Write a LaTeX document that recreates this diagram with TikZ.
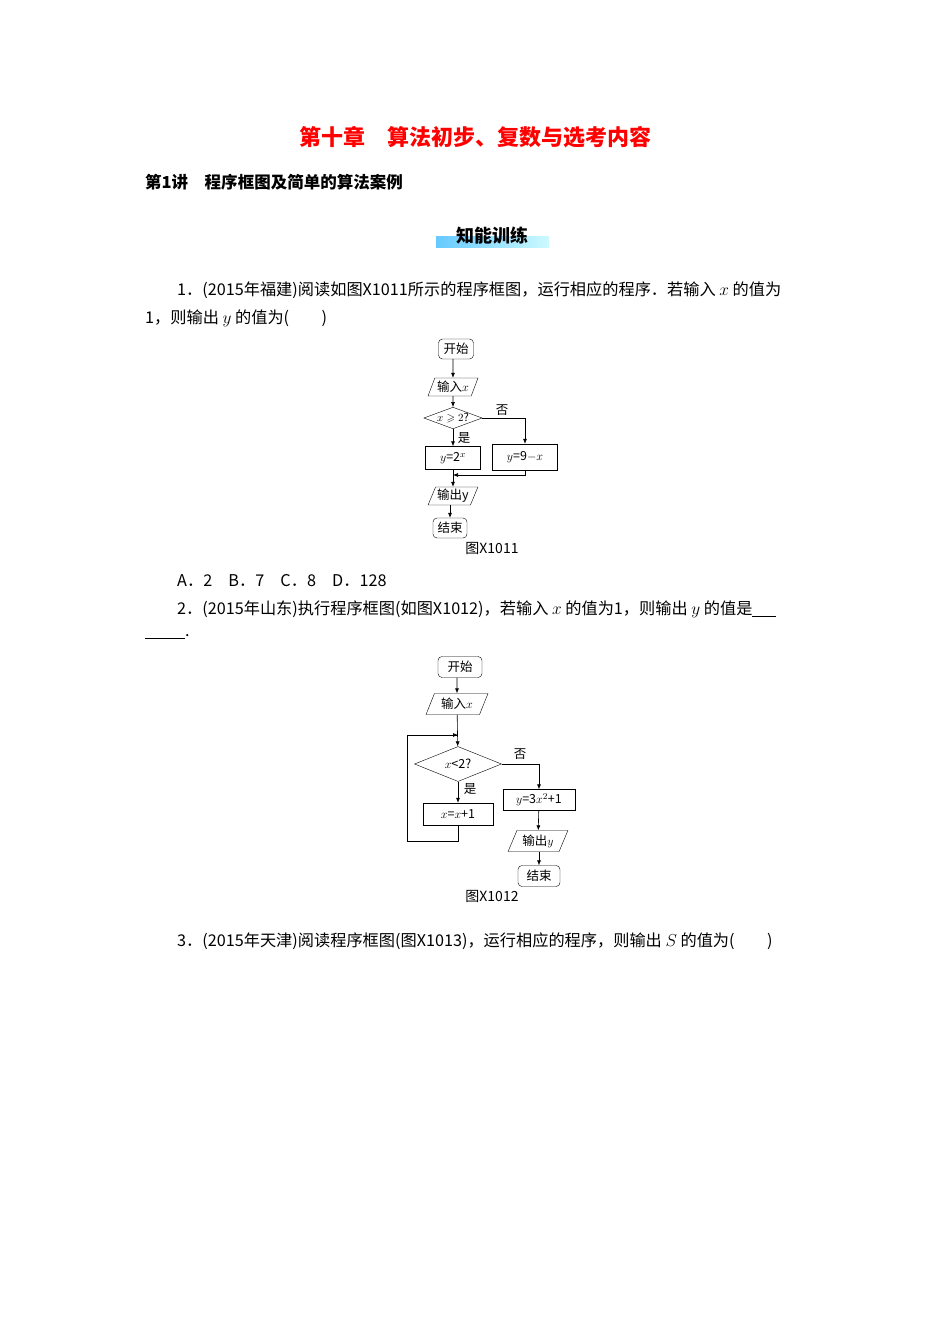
\documentclass[tikz,border=0pt]{standalone}
\usepackage{amssymb}
\usepackage{fontspec}
\setmainfont{Liberation Serif}
\newfontfamily\cjk{Noto Sans CJK SC}
\usetikzlibrary{shapes.geometric,arrows.meta}
\tikzset{
 x=1pt,y=-1pt,
 txt/.style={anchor=west,inner sep=0pt,font=\cjk\fontsize{16.2}{18}\selectfont},
 fc/.style={font=\cjk\fontsize{12.5}{14}\selectfont,inner sep=1pt},
 term/.style={fc,draw,rounded corners=4pt,minimum height=20pt},
 proc/.style={fc,draw,minimum height=22pt},
 io/.style={fc,draw,trapezium,trapezium left angle=65,trapezium right angle=115,minimum height=18pt,trapezium stretches=true},
 dec/.style={fc,draw,diamond,aspect=2.7,inner sep=0pt},
 arr/.style={-{Latex[length=5pt,width=4pt]},line width=0.6pt},
 ln/.style={line width=0.6pt},
 lab/.style={fc,inner sep=0pt}
}
\begin{document}
\begin{tikzpicture}
\useasboundingbox (0,0) rectangle (950,1344);
\node[text=red,font=\cjk\bfseries\fontsize{22}{24}\selectfont] (title) at (475,137) {第十章\quad 算法初步、复数与选考内容};
\node[txt,font=\cjk\bfseries\fontsize{16.5}{18}\selectfont] (sub) at (145,182) {第1讲\quad 程序框图及简单的算法案例};
\shade[left color=blue!35!cyan!60,right color=blue!10!cyan!20] (436,236) rectangle (549,247);
\node[font=\cjk\bfseries\fontsize{18}{20}\selectfont] (zn) at (492,236) {知能训练};
\node[txt] (q1a) at (177,290) {1．(2015年福建)阅读如图X1011所示的程序框图，运行相应的程序．若输入 $x$ 的值为};
\node[txt] (q1b) at (145,318) {1，则输出 $y$ 的值为(\quad\quad )};
% fig 1
\node[term,minimum width=35pt] (s1) at (456,349) {开始};
\node[io,minimum width=50pt] (i1) at (453,387) {输入$x$};
\node[dec,minimum width=55pt,minimum height=20pt,font=\cjk\fontsize{11}{12}\selectfont] (d1) at (453,418) {$x\geqslant2$?};
\node[proc,minimum width=55pt,minimum height=23pt] (p1) at (453,458) {$y$=2$^x$};
\node[proc,minimum width=65pt,minimum height=26pt] (p2) at (525,457) {$y$=9$-x$};
\node[io,minimum width=50pt] (o1) at (453,496) {输出y};
\node[term,minimum width=34pt] (e1) at (450,528) {结束};
\node[lab] (no1) at (502,410) {否};
\node[lab] (yes1) at (464,438) {是};
\node[lab,font=\cjk\fontsize{14}{16}\selectfont] (cap1) at (492,548) {图X1011};
\coordinate (m1) at (453,475);
\draw[arr] (s1) -- (i1 |- s1.south) -- (i1.north);
\draw[arr] (i1) -- (d1);
\draw[arr] (d1) -- (p1);
\draw[arr] (d1.east) -| (p2.north);
\draw[arr] (p2.south) |- (m1);
\draw[arr] (p1) -- (o1);
\draw[arr] (o1.south -| e1) -- (e1);
\node[txt] (opt) at (177,581) {A．2\quad B．7\quad C．8\quad D．128};
\node[txt] (q2a) at (177,609) {2．(2015年山东)执行程序框图(如图X1012)，若输入 $x$ 的值为1，则输出 $y$ 的值是\underline{\hspace{24pt}}};
\node[txt] (q2b) at (145,637) {\underline{\hspace{40pt}}.};
% fig 2
\node[term,minimum width=44pt,minimum height=21pt] (s2) at (460,667) {开始};
\node[io,minimum width=62pt,minimum height=21pt] (i2) at (457,704) {输入$x$};
\node[dec,minimum width=87pt,minimum height=35pt] (d2) at (458,764) {$x$<2?};
\node[proc,minimum width=70pt,minimum height=22pt] (p3) at (458,814) {$x$=$x$+1};
\node[proc,minimum width=72pt,minimum height=21pt] (p4) at (539,800) {$y$=3$x^2$+1};
\node[io,minimum width=60pt,minimum height=21pt] (o2) at (538,841) {输出$y$};
\node[term,minimum width=42pt,minimum height=21pt] (e2) at (539,876) {结束};
\node[lab] (no2) at (520,754) {否};
\node[lab] (yes2) at (470,789) {是};
\node[lab,font=\cjk\fontsize{14}{16}\selectfont] (cap2) at (492,896) {图X1012};
\coordinate (t2) at (458,735);
\coordinate (b2) at (407,841);
\draw[arr] (s2.south -| i2) -- (i2);
\draw[arr] (i2) -- (d2);
\draw[arr] (d2) -- (p3);
\draw[ln] (p3.south) |- (b2) |- (t2);
\draw[arr] (b2 |- t2) -- (t2);
\draw[arr] (d2.east) -| (p4.north);
\draw[arr] (p4) -- (o2);
\draw[arr] (o2.south -| e2) -- (e2);
\node[txt] (q3) at (177,941) {3．(2015年天津)阅读程序框图(图X1013)，运行相应的程序，则输出 $S$ 的值为(\quad\quad )};
\end{tikzpicture}
\end{document}
